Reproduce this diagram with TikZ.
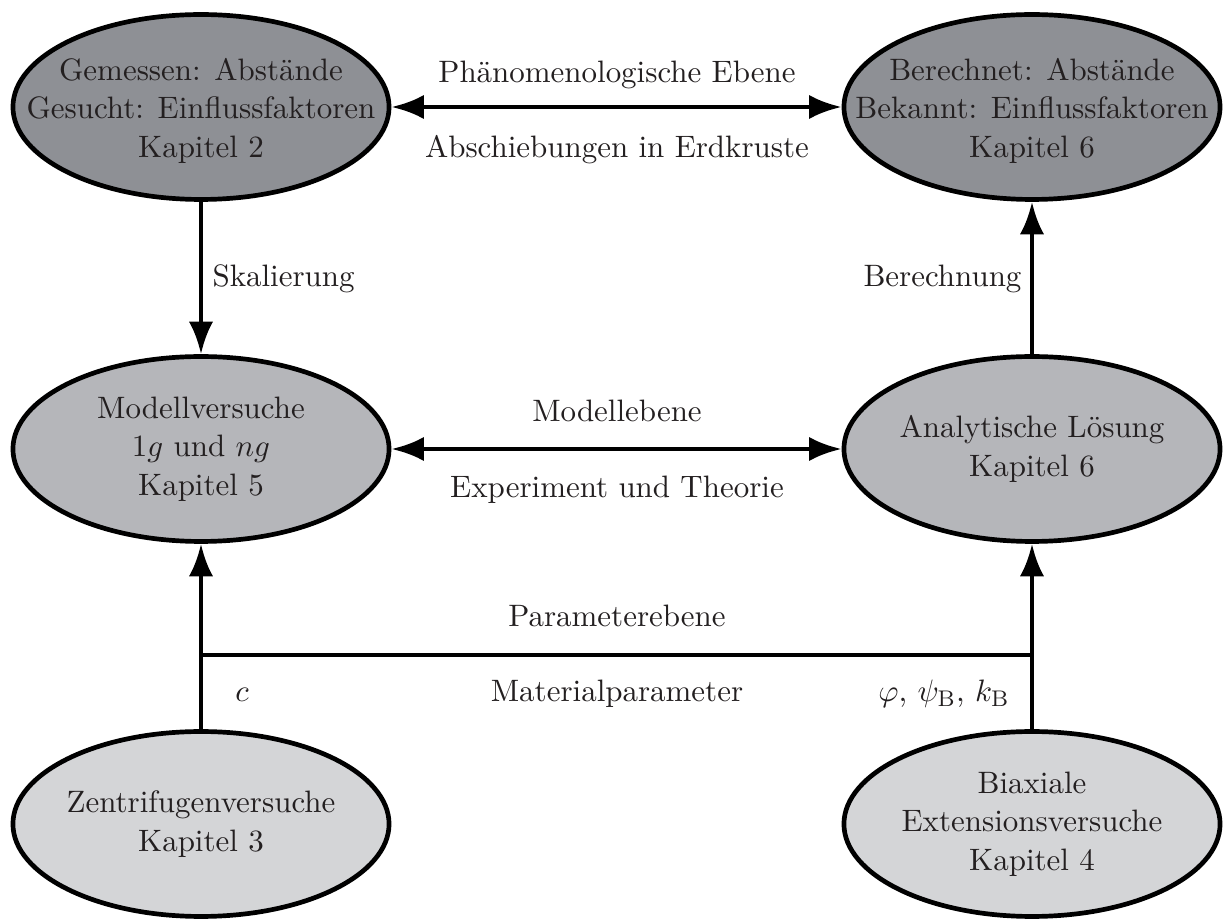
\documentclass[tikz,border=0pt]{standalone}
\usetikzlibrary{shapes.geometric,arrows.meta}
\definecolor{txt}{RGB}{35,31,32}
\definecolor{darkfill}{RGB}{142,144,149}
\definecolor{midfill}{RGB}{181,182,186}
\definecolor{lightfill}{RGB}{212,213,215}
\newcommand{\topstrut}{\rule{0pt}{10.4pt}}
\tikzset{
  ell/.style={ellipse,draw=black,line width=1.66pt,inner xsep=-20pt,inner ysep=0pt,
    minimum width=133pt,minimum height=65.4pt,align=center,text=txt},
  topell/.style={ell,fill=darkfill},
  midell/.style={ell,fill=midfill},
  botell/.style={ell,fill=lightfill},
  conn/.style={line width=1.66pt,draw=black},
  arr/.style={conn,-{Latex[length=11.5pt,width=8.6pt]}},
  darr/.style={conn,{Latex[length=11.5pt,width=8.6pt]}-{Latex[length=11.5pt,width=8.6pt]}},
  lbl/.style={text=txt,inner sep=0pt}
}
\begin{document}
\begin{tikzpicture}[x=0.3536pt,y=-0.3536pt,font=\fontsize{10.95}{13.6}\selectfont]
\useasboundingbox (0,0) rectangle (1224,920);
\node[topell] (TL) at (201,107) {\topstrut Gemessen: Abstände\\Gesucht: Einflussfaktoren\\Kapitel 2};
\node[topell] (TR) at (1032,107) {\topstrut Berechnet: Abstände\\Bekannt: Einflussfaktoren\\Kapitel 6};
\node[midell] (ML) at (201,449) {Modellversuche\\$1g$ und $ng$\\Kapitel 5};
\node[midell] (MR) at (1032,449) {Analytische Lösung\\Kapitel 6};
\node[botell] (BL) at (201,824) {Zentrifugenversuche\\Kapitel 3};
\node[botell] (BR) at (1032,824) {Biaxiale\\Extensionsversuche\\Kapitel 4};

\draw[darr] (TL) -- (TR);
\draw[darr] (ML) -- (MR);
\draw[arr] (TL) -- (ML);
\draw[arr] (MR) -- (TR);
\draw[arr] (BL) -- (ML);
\draw[arr] (BR) -- (MR);
\coordinate (jl) at (201,655);
\coordinate (jr) at (1032,655);
\draw[conn] (jl) -- (jr);

\node[lbl,anchor=base] (l1) at (617,83) {Phänomenologische Ebene};
\node[lbl,anchor=base] (l2) at (617,158) {Abschiebungen in Erdkruste};
\node[lbl,anchor=base] (l3) at (617,422) {Modellebene};
\node[lbl,anchor=base] (l4) at (617,498) {Experiment und Theorie};
\node[lbl,anchor=base] (l5) at (617,627) {Parameterebene};
\node[lbl,anchor=base] (l6) at (617,702) {Materialparameter};
\node[lbl,anchor=base west] (l7) at (212,287) {Skalierung};
\node[lbl,anchor=base east] (l8) at (1022,287) {Berechnung};
\node[lbl,anchor=base] (l9) at (242,702) {$c$};
\node[lbl,anchor=base] (l10) at (944,702) {$\varphi$, $\psi_{\mathrm{B}}$, $k_{\mathrm{B}}$};
\end{tikzpicture}
\end{document}
